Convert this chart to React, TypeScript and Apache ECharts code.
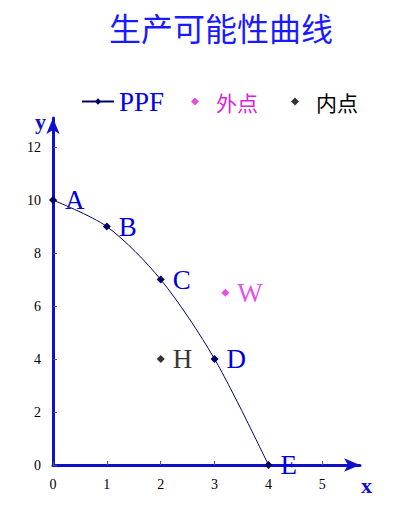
import React, { useEffect, useRef } from "react";
import * as echarts from "echarts";

const ppfX = [0, 1, 2, 3, 4];
const ppfY = [10, 9, 7, 4, 0];
const ppfLabels = ["A", "B", "C", "D", "E"];
const outerPoint = [3.2, 6.5];
const outerLabel = "W";
const innerPoint = [2, 4];
const innerLabel = "H";
const xTicks = [0, 1, 2, 3, 4, 5];
const yTicks = [0, 2, 4, 6, 8, 10, 12];

export default function App() {
  const ref = useRef<HTMLDivElement>(null);
  useEffect(() => {
    document.body.style.margin = "0";
    const chart = echarts.init(ref.current!, undefined, { renderer: "svg" });
    const serif = "'Liberation Serif', 'DejaVu Serif', serif";
    const cjk = "'Noto Sans CJK SC', sans-serif";
    const labelStyle = (color: string) => ({
      show: true,
      position: "right" as const,
      distance: 8,
      color,
      fontFamily: serif,
      fontSize: 27,
    });
    chart.setOption({
      animation: false,
      backgroundColor: "#ffffff",
      title: {
        text: "生产可能性曲线",
        left: 104,
        top: 6,
        textStyle: { color: "#1a1aff", fontSize: 32, fontWeight: "normal", fontFamily: cjk },
      },
      legend: [
        {
          top: 83,
          left: 76,
          itemGap: 6,
          itemWidth: 32,
          itemHeight: 8,
          data: [{ name: "PPF", textStyle: { color: "#0000ee", fontSize: 27, fontFamily: serif } }],
        },
        {
          top: 86,
          left: 186,
          itemWidth: 8,
          itemHeight: 8,
          textStyle: { padding: [0, 0, 0, 12] },
          data: [{ name: "外点", textStyle: { color: "#e020e0", fontSize: 21, fontFamily: cjk } }],
        },
        {
          top: 86,
          left: 286,
          itemWidth: 8,
          itemHeight: 8,
          textStyle: { padding: [0, 0, 0, 12] },
          data: [{ name: "内点", textStyle: { color: "#000000", fontSize: 21, fontFamily: cjk } }],
        },
      ],
      grid: { left: 53, right: 56, top: 118, bottom: 62 },
      graphic: [
        {
          type: "text",
          left: 35,
          top: 110,
          style: { text: "y", fill: "#1010cc", font: "bold 22px 'Liberation Serif', serif" },
        },
        {
          type: "text",
          left: 361,
          top: 474,
          style: { text: "x", fill: "#1010cc", font: "bold 22px 'Liberation Serif', serif" },
        },
      ],
      xAxis: {
        type: "value",
        min: 0,
        max: 5.7,
        interval: 1,
        axisLine: {
          show: true,
          symbol: ["none", "arrow"],
          symbolSize: [10, 16],
          lineStyle: { color: "#1010cc", width: 3 },
        },
        axisTick: { show: true, inside: true, length: 4, lineStyle: { color: "#555" }, customValues: xTicks },
        axisLabel: { color: "#000", fontSize: 14, fontFamily: serif, margin: 12, customValues: xTicks },
        splitLine: { show: false },
      },
      yAxis: {
        type: "value",
        min: 0,
        max: 13.1,
        interval: 2,
        axisLine: {
          show: true,
          symbol: ["none", "arrow"],
          symbolSize: [10, 16],
          lineStyle: { color: "#1010cc", width: 3 },
        },
        axisTick: { show: true, inside: true, length: 4, lineStyle: { color: "#555" }, customValues: yTicks },
        axisLabel: { color: "#000", fontSize: 14, fontFamily: serif, margin: 12, customValues: yTicks },
        splitLine: { show: false },
      },
      series: [
        {
          name: "PPF",
          type: "line",
          smooth: 0.3,
          symbol: "diamond",
          symbolSize: 8,
          itemStyle: { color: "#000066" },
          lineStyle: { color: "#000066", width: 1 },
          data: ppfX.map((x, i) => ({ value: [x, ppfY[i]], label: { ...labelStyle("#0000dd"), formatter: ppfLabels[i] } })),
          z: 5,
        },
        {
          name: "外点",
          type: "scatter",
          symbol: "diamond",
          symbolSize: 8,
          itemStyle: { color: "#e020e0" },
          label: { ...labelStyle("#e020e0"), formatter: outerLabel },
          data: [outerPoint],
        },
        {
          name: "内点",
          type: "scatter",
          symbol: "diamond",
          symbolSize: 8,
          itemStyle: { color: "#000000" },
          label: { ...labelStyle("#000000"), formatter: innerLabel },
          data: [innerPoint],
        },
      ],
    });
    return () => chart.dispose();
  }, []);
  return <div ref={ref} style={{ width: 416, height: 527, position: "absolute", left: 0, top: 0 }} />;
}
